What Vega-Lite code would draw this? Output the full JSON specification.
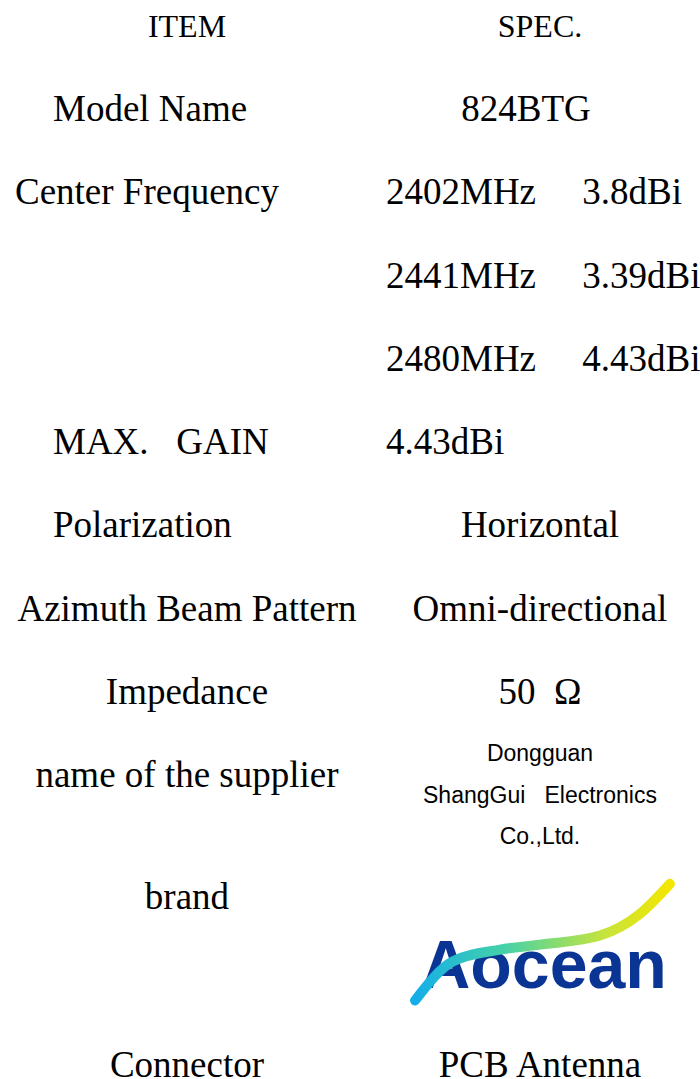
{
  "$schema": "https://vega.github.io/schema/vega-lite/v6.json",
  "width": 700,
  "height": 1079,
  "autosize": {"type": "none"},
  "padding": 0,
  "background": "white",
  "config": {"view": {"stroke": null}},
  "datasets": {
    "header": [
      {"c": 0, "r": 0, "t": "ITEM"},
      {"c": 1, "r": 0, "t": "SPEC."}
    ],
    "centered": [
      {"c": 0, "r": 7, "t": "Azimuth Beam Pattern"},
      {"c": 0, "r": 8, "t": "Impedance"},
      {"c": 0, "r": 9, "t": "name of the supplier"},
      {"c": 0, "r": 10.46, "t": "brand"},
      {"c": 0, "r": 12.48, "t": "Connector"},
      {"c": 1, "r": 6, "t": "Horizontal"},
      {"c": 1, "r": 7, "t": "Omni-directional"},
      {"c": 1, "r": 12.48, "t": "PCB Antenna"}
    ],
    "model": [
      {"c": 1, "r": 1, "t": "824BTG"}
    ],
    "ohm": [
      {"c": 1, "r": 8, "t": "50\u00a0\u00a0Ω"}
    ],
    "leftItems": [
      {"c": 0, "r": 1, "t": "Model Name"},
      {"c": 0, "r": 5, "t": "MAX.\u00a0\u00a0\u00a0GAIN"},
      {"c": 0, "r": 6, "t": "Polarization"}
    ],
    "wideItem": [
      {"c": 0, "r": 2, "t": "Center Frequency"}
    ],
    "freq": [
      {"c": 1, "r": 2, "t": "2402MHz\u00a0\u00a0\u00a0\u00a0\u00a03.8dBi"},
      {"c": 1, "r": 3, "t": "2441MHz\u00a0\u00a0\u00a0\u00a0\u00a03.39dBi"},
      {"c": 1, "r": 4, "t": "2480MHz\u00a0\u00a0\u00a0\u00a0\u00a04.43dBi"},
      {"c": 1, "r": 5, "t": "4.43dBi"}
    ],
    "supplier": [
      {"c": 1, "r": 8.73, "t": "Dongguan"},
      {"c": 1, "r": 9.24, "t": "ShangGui\u00a0\u00a0\u00a0Electronics"},
      {"c": 1, "r": 9.73, "t": "Co.,Ltd."}
    ],
    "logo": [
      {"c": 1, "r": 11.3, "t": "Aocean"}
    ],
    "swoosh": [
      {"c": 0.646, "r": 11.69},
      {"c": 0.754, "r": 11.22},
      {"c": 0.887, "r": 11.08},
      {"c": 1.0, "r": 11.02},
      {"c": 1.17, "r": 10.91},
      {"c": 1.283, "r": 10.65},
      {"c": 1.368, "r": 10.29}
    ]
  },
  "encoding": {
    "x": {"field": "c", "type": "quantitative", "scale": {"domain": [-0.5297, 1.4533], "nice": false, "zero": false}, "axis": null},
    "y": {"field": "r", "type": "quantitative", "scale": {"domain": [-0.3205, 12.633], "nice": false, "zero": false, "reverse": true}, "axis": null}
  },
  "layer": [
    {
      "data": {"name": "logo"},
      "mark": {"type": "text", "font": "Liberation Sans", "fontWeight": "bold", "fontSize": 68, "fill": "#0b3595", "align": "center", "baseline": "middle", "dx": 4},
      "encoding": {"text": {"field": "t"}}
    },
    {
      "data": {"name": "swoosh"},
      "mark": {"type": "line", "interpolate": "monotone", "strokeWidth": 10, "strokeCap": "round",
        "stroke": {"gradient": "linear", "x1": 0, "y1": 0, "x2": 1, "y2": 0,
          "stops": [{"offset": 0, "color": "#14aee8"}, {"offset": 0.35, "color": "#45d2a8"}, {"offset": 0.75, "color": "#c8e43a"}, {"offset": 1, "color": "#f4e600"}]}},
      "encoding": {}
    },
    {
      "data": {"name": "header"},
      "mark": {"type": "text", "font": "Liberation Serif", "fontSize": 32, "fill": "black", "align": "center", "baseline": "middle"},
      "encoding": {"text": {"field": "t"}}
    },
    {
      "data": {"name": "centered"},
      "mark": {"type": "text", "font": "Liberation Serif", "fontSize": 37, "fill": "black", "align": "center", "baseline": "middle"},
      "encoding": {"text": {"field": "t"}}
    },
    {
      "data": {"name": "model"},
      "mark": {"type": "text", "font": "Liberation Serif", "fontSize": 37, "fill": "black", "align": "center", "baseline": "middle", "dx": -14},
      "encoding": {"text": {"field": "t"}}
    },
    {
      "data": {"name": "ohm"},
      "mark": {"type": "text", "font": "Liberation Serif", "fontSize": 37, "fill": "black", "align": "center", "baseline": "middle"},
      "encoding": {"text": {"field": "t"}}
    },
    {
      "data": {"name": "leftItems"},
      "mark": {"type": "text", "font": "Liberation Serif", "fontSize": 37, "fill": "black", "align": "left", "baseline": "middle", "dx": -134},
      "encoding": {"text": {"field": "t"}}
    },
    {
      "data": {"name": "wideItem"},
      "mark": {"type": "text", "font": "Liberation Serif", "fontSize": 37, "fill": "black", "align": "left", "baseline": "middle", "dx": -172},
      "encoding": {"text": {"field": "t"}}
    },
    {
      "data": {"name": "freq"},
      "mark": {"type": "text", "font": "Liberation Serif", "fontSize": 37, "fill": "black", "align": "left", "baseline": "middle", "dx": -154},
      "encoding": {"text": {"field": "t"}}
    },
    {
      "data": {"name": "supplier"},
      "mark": {"type": "text", "font": "Liberation Sans", "fontSize": 23, "fill": "black", "align": "center", "baseline": "middle"},
      "encoding": {"text": {"field": "t"}}
    }
  ]
}
